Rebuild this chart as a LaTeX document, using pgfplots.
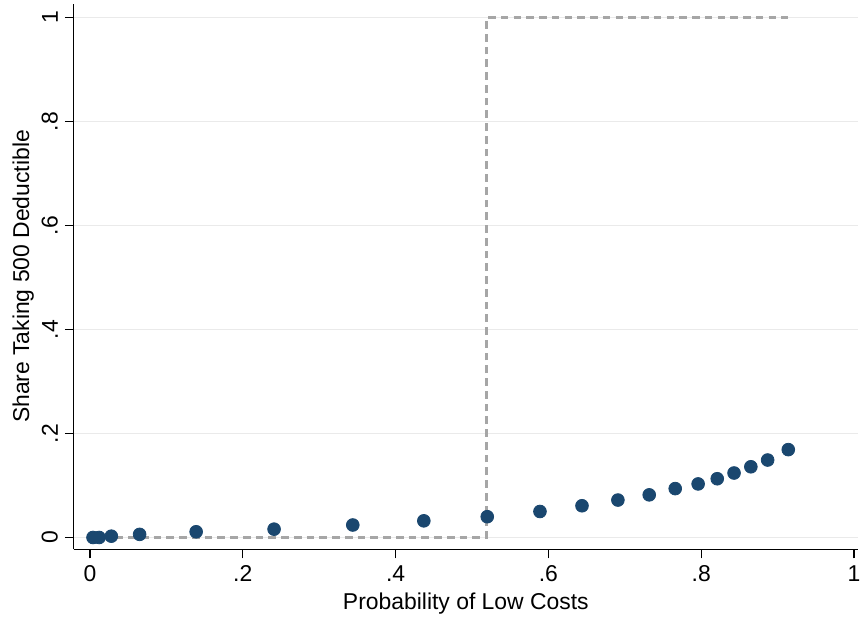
\documentclass[border={3pt 2pt 0pt 1.5pt}]{standalone}
\usepackage{pgfplots}
\pgfplotsset{compat=1.18}
\usepackage{fontspec}
\setmainfont{Liberation Sans}
\definecolor{stnavy}{HTML}{1A476F}
\definecolor{dashgray}{HTML}{A6A6A6}
\definecolor{gridgray}{HTML}{EAEAEA}
\begin{document}
\begin{tikzpicture}
\begin{axis}[
  scale only axis,
  width=393.5pt, height=274pt,
  xmin=-0.021, xmax=1.005,
  ymin=-0.023, ymax=1.027,
  axis x line*=bottom, axis y line*=left,
  axis line style={black, line width=0.6pt, -},
  tick style={black, line width=0.6pt},
  tick align=outside,
  major tick length=4.5pt,
  xtick={0,0.2,0.4,0.6,0.8,1},
  xticklabels={0,.2,.4,.6,.8,1},
  ytick={0,0.2,0.4,0.6,0.8,1},
  yticklabels={0,.2,.4,.6,.8,1},
  yticklabel style={rotate=90, anchor=south},
  ymajorgrids,
  grid style={gridgray, line width=0.6pt},
  tick label style={font=\fontsize{11.5}{13}\selectfont},
  label style={font=\fontsize{11.5}{13}\selectfont},
  xlabel={Probability of Low Costs},
  ylabel={Share Taking 500 Deductible},
  xlabel style={yshift=1pt},
  ylabel style={yshift=-3pt},
  clip=false,
]
\addplot[dashgray, line width=1.5pt, dash pattern=on 3.8pt off 2.6pt] coordinates {
  (0,0) (0.519,0) (0.519,1) (0.913,1)
};
\addplot[only marks, mark=*, mark size=3.2pt, mark options={fill=stnavy, draw=stnavy}] coordinates {
  (0.004,0.000) (0.012,0.000) (0.028,0.0025) (0.065,0.006) (0.139,0.011)
  (0.241,0.016) (0.344,0.024) (0.437,0.032) (0.520,0.040) (0.589,0.050)
  (0.644,0.061) (0.691,0.072) (0.732,0.082) (0.766,0.094) (0.796,0.103)
  (0.821,0.113) (0.843,0.124) (0.865,0.136) (0.887,0.149) (0.914,0.169)
};
\end{axis}
\end{tikzpicture}
\end{document}
